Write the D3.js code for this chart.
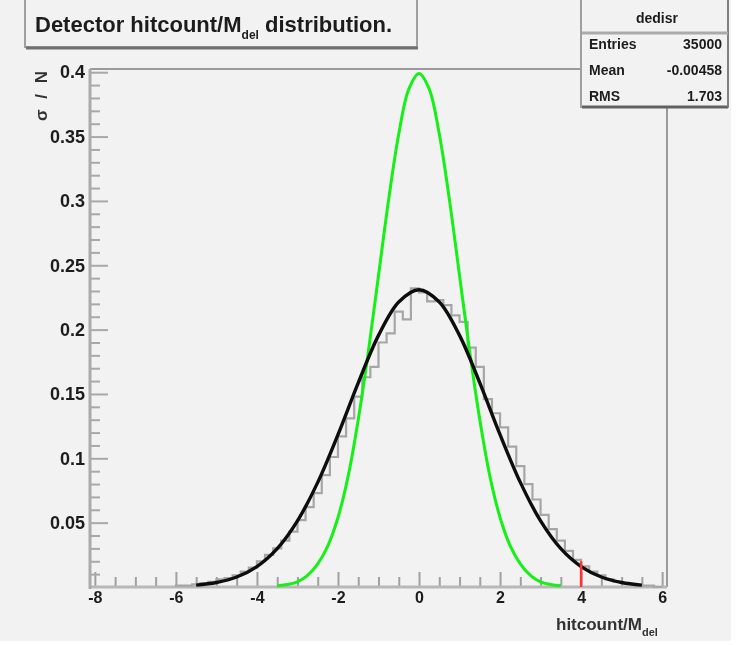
<!DOCTYPE html>
<html>
<head>
<meta charset="utf-8">
<script src="https://cdn.jsdelivr.net/npm/d3@7"></script>
<style>
  body { margin: 0; background: #ffffff; }
  svg { display: block; font-family: "Liberation Sans", Arial, sans-serif; }
</style>
</head>
<body>
<div id="chart"></div>
<script>
// Histogram bins (width 0.2, from -6 to 6)
const binStart = -6;
const binWidth = 0.2;
const histValues = [
  0.001, 0.001, 0.002, 0.003, 0.004, 0.006, 0.007, 0.009, 0.012, 0.015,
  0.020, 0.025, 0.030, 0.036, 0.043, 0.052, 0.062, 0.073, 0.087, 0.101,
  0.117, 0.131, 0.148, 0.163, 0.171, 0.190, 0.197, 0.214, 0.208, 0.232,
  0.229, 0.222, 0.223, 0.219, 0.211, 0.206, 0.186, 0.171, 0.146, 0.135,
  0.124, 0.109, 0.094, 0.080, 0.068, 0.056, 0.045, 0.036, 0.028, 0.021,
  0.016, 0.012, 0.009, 0.006, 0.004, 0.003, 0.002, 0.001, 0.001, 0.000
];

// Fitted curve (black)
const fitX = [-5.5, -5, -4.5, -4, -3.5, -3, -2.5, -2, -1.5, -1, -0.5, 0,
              0.5, 1, 1.5, 2, 2.5, 3, 3.5, 4, 4.5, 5, 5.5];
const fitY = [0.0015, 0.0035, 0.0078, 0.0159, 0.0298, 0.0514, 0.0813, 0.1184, 0.1586, 0.1955, 0.2215, 0.231,
              0.2215, 0.1955, 0.1586, 0.1184, 0.0813, 0.0514, 0.0298, 0.0159, 0.0078, 0.0035, 0.0015];

// Reference curve (green)
const refX = [-3.5, -3.25, -3, -2.75, -2.5, -2.25, -2, -1.75, -1.5, -1.25, -1, -0.75, -0.5, -0.25, 0,
              0.25, 0.5, 0.75, 1, 1.25, 1.5, 1.75, 2, 2.25, 2.5, 2.75, 3, 3.25, 3.5];
const refY = [0.001, 0.002, 0.004, 0.009, 0.018, 0.032, 0.054, 0.086, 0.130, 0.183, 0.242, 0.301, 0.352, 0.387, 0.399,
              0.387, 0.352, 0.301, 0.242, 0.183, 0.130, 0.086, 0.054, 0.032, 0.018, 0.009, 0.004, 0.002, 0.001];

// Red marker position
const markerX = [4];

// Axis ticks
const xMajor = [-8, -6, -4, -2, 0, 2, 4, 6];
const yMajor = [0.05, 0.1, 0.15, 0.2, 0.25, 0.3, 0.35, 0.4];
const yLabels = ['0.05', '0.1', '0.15', '0.2', '0.25', '0.3', '0.35', '0.4'];

// Stats box
const statsName = 'dedisr';
const statsRows = [['Entries', '35000'], ['Mean', '-0.00458'], ['RMS', '1.703']];

const width = 738, height = 645;
const frame = { left: 90, right: 667, top: 69, bottom: 587 };
const ink = '#1c1c1c';

const xScale = d3.scaleLinear().domain([-8.12, 6.12]).range([frame.left, frame.right]);
const yScale = d3.scaleLinear().domain([0, 0.4025]).range([frame.bottom, frame.top]);

const svg = d3.select('#chart').append('svg')
  .attr('width', width)
  .attr('height', height);

const defs = svg.append('defs');
defs.append('filter').attr('id', 'soft')
  .append('feGaussianBlur').attr('stdDeviation', 0.6);

// canvas
svg.append('rect').attr('x', 0).attr('y', 0).attr('width', 731).attr('height', 641).attr('fill', '#f2f2f2');

const root = svg.append('g').attr('filter', 'url(#soft)');

// frame lines
root.append('line').attr('x1', frame.left).attr('x2', frame.right).attr('y1', frame.top).attr('y2', frame.top)
  .attr('stroke', '#9a9a9a').attr('stroke-width', 2);
root.append('line').attr('x1', frame.right).attr('x2', frame.right).attr('y1', frame.top).attr('y2', frame.bottom)
  .attr('stroke', '#9a9a9a').attr('stroke-width', 2);

// x axis
const xMinor = d3.range(-8, 6.01, 0.5).filter(v => !xMajor.includes(v));
const xMinorAxis = d3.axisBottom(xScale).tickValues(xMinor).tickSize(-10).tickFormat('');
const xAxis = d3.axisBottom(xScale).tickValues(xMajor).tickSize(-15).tickPadding(5)
  .tickFormat(d => String(d));

const xg1 = root.append('g').attr('transform', `translate(0,${frame.bottom})`).call(xMinorAxis);
const xg2 = root.append('g').attr('transform', `translate(0,${frame.bottom})`).call(xAxis);
[xg1, xg2].forEach(g => {
  g.select('.domain').remove();
  g.selectAll('line').attr('stroke', '#a0a0a0').attr('stroke-width', 2);
});
xg2.selectAll('text').attr('fill', ink).style('font-size', '16px').style('font-weight', 'bold');

// y axis
const yMinor = d3.range(0.01, 0.401, 0.01).filter(v => Math.abs(v * 20 - Math.round(v * 20)) > 1e-6);
const yMinorAxis = d3.axisLeft(yScale).tickValues(yMinor).tickSize(-10).tickFormat('');
const yAxis = d3.axisLeft(yScale).tickValues(yMajor).tickSize(-18).tickPadding(5)
  .tickFormat((d, i) => yLabels[i]);
const yg1 = root.append('g').attr('transform', `translate(${frame.left},0)`).call(yMinorAxis);
const yg2 = root.append('g').attr('transform', `translate(${frame.left},0)`).call(yAxis);
[yg1, yg2].forEach(g => {
  g.select('.domain').remove();
  g.selectAll('line').attr('stroke', '#a8a8a8').attr('stroke-width', 2);
});
yg2.selectAll('text').attr('fill', ink).style('font-size', '18px').style('font-weight', 'bold');

// axis lines
root.append('line').attr('x1', frame.left).attr('x2', frame.right).attr('y1', frame.bottom).attr('y2', frame.bottom)
  .attr('stroke', '#b8b8b8').attr('stroke-width', 3);
root.append('line').attr('x1', frame.left).attr('x2', frame.left).attr('y1', frame.top).attr('y2', frame.bottom + 2)
  .attr('stroke', '#aaaaaa').attr('stroke-width', 3);

// histogram outline
const histPts = [];
histValues.forEach((v, i) => {
  const x0 = binStart + i * binWidth;
  histPts.push([x0, v], [x0 + binWidth, v]);
});
histPts.unshift([binStart, 0]);
histPts.push([binStart + histValues.length * binWidth, 0]);
root.append('path')
  .datum(histPts)
  .attr('fill', 'none')
  .attr('stroke', '#a6a6a6')
  .attr('stroke-width', 2.2)
  .attr('d', d3.line().x(d => xScale(d[0])).y(d => yScale(d[1])));

// green curve
root.append('path')
  .datum(refX.map((x, i) => [x, refY[i]]))
  .attr('fill', 'none')
  .attr('stroke', '#14f014')
  .attr('stroke-width', 3)
  .attr('d', d3.line().curve(d3.curveCatmullRom).x(d => xScale(d[0])).y(d => yScale(d[1])));

// black curve
root.append('path')
  .datum(fitX.map((x, i) => [x, fitY[i]]))
  .attr('fill', 'none')
  .attr('stroke', '#111')
  .attr('stroke-width', 3.4)
  .attr('d', d3.line().curve(d3.curveCatmullRom).x(d => xScale(d[0])).y(d => yScale(d[1])));

// red marker
root.selectAll('.marker').data(markerX).join('line')
  .attr('class', 'marker')
  .attr('x1', d => xScale(d)).attr('x2', d => xScale(d))
  .attr('y1', yScale(0.02)).attr('y2', frame.bottom)
  .attr('stroke', '#ff3030').attr('stroke-width', 2.5);

// x title
const xt = root.append('text').attr('x', 556).attr('y', 630)
  .attr('fill', '#333').style('font-size', '17px').style('font-weight', 'bold');
xt.append('tspan').text('hitcount/M');
xt.append('tspan').attr('dy', 6).style('font-size', '11px').text('del');

// y title
root.append('text')
  .attr('transform', 'translate(47,68) rotate(-90)')
  .attr('text-anchor', 'end')
  .attr('fill', '#333').style('font-size', '17px').style('font-weight', 'bold')
  .style('letter-spacing', '3px')
  .text('σ / N');

// title box
const tb = root.append('g');
tb.append('rect').attr('x', 25).attr('y', -4).attr('width', 392).attr('height', 51)
  .attr('fill', '#f2f2f2').attr('stroke', '#a0a0a0').attr('stroke-width', 2);
tb.append('line').attr('x1', 26).attr('x2', 418).attr('y1', 48).attr('y2', 48)
  .attr('stroke', '#707070').attr('stroke-width', 3);
const tt = tb.append('text').attr('x', 35).attr('y', 32)
  .attr('fill', ink).style('font-size', '22px').style('font-weight', 'bold');
tt.append('tspan').text('Detector hitcount/M');
tt.append('tspan').attr('dy', 7).style('font-size', '12px').text('del');
tt.append('tspan').attr('dy', -7).text(' distribution.');

// stats box
const sb = root.append('g');
sb.append('rect').attr('x', 581).attr('y', -4).attr('width', 147).attr('height', 111)
  .attr('fill', '#f2f2f2').attr('stroke', '#a0a0a0').attr('stroke-width', 2);
sb.append('line').attr('x1', 582).attr('x2', 728).attr('y1', 107).attr('y2', 107)
  .attr('stroke', '#606060').attr('stroke-width', 3);
sb.append('line').attr('x1', 728).attr('x2', 728).attr('y1', 0).attr('y2', 107)
  .attr('stroke', '#808080').attr('stroke-width', 2);
sb.append('line').attr('x1', 582).attr('x2', 728).attr('y1', 33).attr('y2', 33)
  .attr('stroke', '#aaaaaa').attr('stroke-width', 3);
sb.append('text').attr('x', 657).attr('y', 23).attr('text-anchor', 'middle')
  .attr('fill', ink).style('font-size', '14px').style('font-weight', 'bold').text(statsName);
statsRows.forEach((r, i) => {
  const yy = 49 + i * 26;
  sb.append('text').attr('x', 589).attr('y', yy).attr('fill', ink)
    .style('font-size', '14px').style('font-weight', 'bold').text(r[0]);
  sb.append('text').attr('x', 722).attr('y', yy).attr('text-anchor', 'end').attr('fill', ink)
    .style('font-size', '14px').style('font-weight', 'bold').text(r[1]);
});
</script>
</body>
</html>
